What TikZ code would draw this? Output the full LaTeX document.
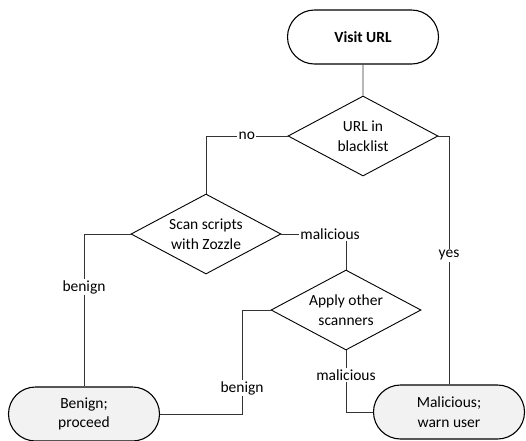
\documentclass[tikz,border=0pt]{standalone}
\usepackage{fontspec}
\setmainfont{Carlito}
\usetikzlibrary{shapes.geometric,shapes.misc}
\begin{document}
\begin{tikzpicture}[x=1pt,y=-1pt,
  every node/.style={font=\fontsize{15.5}{19.5}\selectfont},
  term/.style={rounded rectangle, draw=black, line width=1.1pt, minimum width=151pt, minimum height=54pt, align=center, inner sep=0pt},
  decision/.style={diamond, aspect=1.875, draw=black, line width=0.9pt, minimum width=150pt, minimum height=80pt, align=center, inner sep=0pt, fill=white},
  conn/.style={draw=black!80, line width=0.8pt},
  lbl/.style={fill=white, inner sep=1.5pt}]
\useasboundingbox (0,0) rectangle (526,440);
\node[term, fill=white, font=\fontsize{15.5}{19.5}\selectfont\bfseries] (visit) at (363,37) {Visit URL};
\node[decision] (d1) at (363,136) {URL in\\blacklist};
\node[decision] (zoz) at (206,234) {Scan scripts\\with Zozzle};
\node[decision] (apply) at (346,310) {Apply other\\scanners};
\node[term, fill=black!5] (ben) at (84,414) {Benign;\\proceed};
\node[term, fill=black!5] (mal) at (449,412) {Malicious;\\warn user};
\coordinate (bj) at (242,310);
\draw[conn] (visit) -- (d1);
\draw[conn] (d1.west) -| node[lbl, pos=0.25] (lno) {no} (zoz.north);
\draw[conn] (d1.east) -| node[lbl, pos=0.74] (lyes) {yes} (mal.north);
\draw[conn] (zoz.west) -| node[lbl, pos=0.674] (lben1) {benign} (ben.north);
\draw[conn] (zoz.east) -| node[lbl, pos=0.377] (lmal1) {malicious} (apply.north);
\draw[conn] (apply.west) -- (bj) |- node[lbl, pos=0.376] (lben2) {benign} (ben.east);
\draw[conn] (apply.south) |- node[lbl, pos=0.2] (lmal2) {malicious} (mal.west);
\end{tikzpicture}
\end{document}
